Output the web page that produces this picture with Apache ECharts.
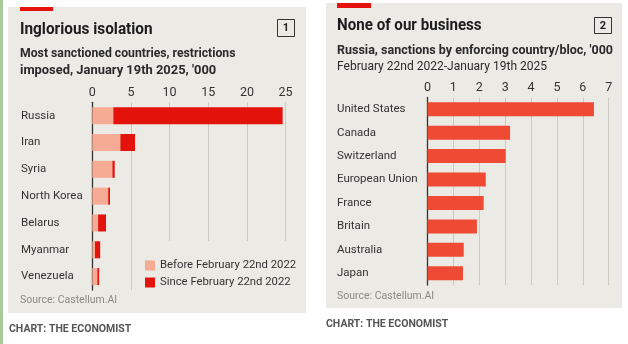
<!DOCTYPE html>
<html><head><meta charset="utf-8">
<script src="https://cdn.jsdelivr.net/npm/echarts@6/dist/echarts.min.js"></script>
<style>html,body{margin:0;padding:0;background:#fff}#c{width:628px;height:344px}</style>
</head><body><div id="c"></div>
<script>
// Chart 1 data ('000 restrictions)
const countries1 = ['Russia','Iran','Syria','North Korea','Belarus','Myanmar','Venezuela'];
const beforeVals = [2.72, 3.63, 2.6, 2.05, 0.75, 0.35, 0.65];
const sinceVals  = [21.9, 1.9, 0.3, 0.24, 1.02, 0.67, 0.23];
const ticks1 = [0, 5, 10, 15, 20, 25];
// Chart 2 data ('000 sanctions on Russia)
const countries2 = ['United States','Canada','Switzerland','European Union','France','Britain','Australia','Japan'];
const russiaVals = [6.43, 3.19, 3.02, 2.25, 2.17, 1.91, 1.40, 1.37];
const ticks2 = [0, 1, 2, 3, 4, 5, 6, 7];

const FONT = "'Roboto', sans-serif";
const BG = '#ebeae4';
const GRIDC = '#cbcac3';
const chart = echarts.init(document.getElementById('c'), null, {renderer: 'canvas'});

function txt(x, y, s, size, weight, color, sx, align) {
  return {type: 'text', x: x, y: y, z: 10, scaleX: sx || 1,
    style: {text: s, fontFamily: FONT, fontSize: size, fontWeight: weight, fill: color,
      textAlign: align || 'left', textVerticalAlign: 'middle'}};
}

chart.setOption({
  animation: false,
  backgroundColor: '#ffffff',
  textStyle: {fontFamily: FONT},
  graphic: [
    {type: 'rect', shape: {x: 0, y: 0, width: 3, height: 344}, style: {fill: '#a9c99a'}, z: -10},
    {type: 'rect', shape: {x: 8, y: 7, width: 298, height: 306}, style: {fill: BG}, z: -10},
    {type: 'rect', shape: {x: 326, y: 3, width: 296, height: 305}, style: {fill: BG}, z: -10},
    {type: 'rect', shape: {x: 20, y: 7, width: 33, height: 4}, style: {fill: '#e3120b'}, z: 10},
    {type: 'rect', shape: {x: 337, y: 3, width: 34, height: 5}, style: {fill: '#e3120b'}, z: 10},
    // legend cover over gridlines
    {type: 'rect', shape: {x: 140, y: 241, width: 160, height: 52}, style: {fill: BG}, z: 3},
    // box 1
    {type: 'rect', shape: {x: 277.5, y: 19.5, width: 17, height: 17}, style: {fill: 'none', stroke: '#333', lineWidth: 1}, z: 10},
    txt(286, 28.5, '1', 11, 'bold', '#222', 1, 'center'),
    {type: 'rect', shape: {x: 594.5, y: 17.5, width: 17, height: 16}, style: {fill: 'none', stroke: '#333', lineWidth: 1}, z: 10},
    txt(603, 26, '2', 11, 'bold', '#222', 1, 'center'),
    txt(20, 30, 'Inglorious isolation', 16.5, 'bold', '#1c1c1c', 0.93),
    txt(20, 54, 'Most sanctioned countries, restrictions', 13.3, 'bold', '#2a2a2a', 0.92),
    txt(20, 71, "imposed, January 19th 2025, '000", 13.3, 'bold', '#2a2a2a', 0.97),
    txt(20, 300, 'Source: Castellum.AI', 10.5, 'normal', '#8a8a85'),
    txt(9, 329, 'CHART: THE ECONOMIST', 10.5, 'bold', '#555555'),
    txt(337, 26, 'None of our business', 16.5, 'bold', '#1c1c1c', 0.917),
    txt(337, 51, "Russia, sanctions by enforcing country/bloc, '000", 13.3, 'bold', '#2a2a2a', 0.94),
    txt(337, 67, 'February 22nd 2022-January 19th 2025', 13.3, 'normal', '#2a2a2a', 0.905),
    txt(337, 296, 'Source: Castellum.AI', 10.5, 'normal', '#8a8a85'),
    txt(326, 324, 'CHART: THE ECONOMIST', 10.5, 'bold', '#555555')
  ],
  legend: {
    left: 140, top: 255, orient: 'vertical', itemWidth: 10, itemHeight: 10, itemGap: 6,
    icon: 'rect', z: 4,
    textStyle: {fontFamily: FONT, fontSize: 11.3, color: '#333'},
    data: ['Before February 22nd 2022', 'Since February 22nd 2022']
  },
  grid: [
    {left: 92.3, top: 102.3, width: 193.3, height: 187.7},
    {left: 427.5, top: 97.5, width: 181.2, height: 187.5}
  ],
  xAxis: [
    {gridIndex: 0, type: 'value', position: 'top', min: ticks1[0], max: ticks1[ticks1.length-1], interval: 5,
      axisLine: {show: false}, axisTick: {show: false},
      axisLabel: {margin: 3, fontSize: 12.5, color: '#333', fontFamily: FONT},
      splitLine: {show: true, lineStyle: {color: GRIDC, width: 1}}},
    {gridIndex: 1, type: 'value', position: 'top', min: ticks2[0], max: ticks2[ticks2.length-1], interval: 1,
      axisLine: {show: false}, axisTick: {show: false},
      axisLabel: {margin: 3, fontSize: 12.5, color: '#333', fontFamily: FONT},
      splitLine: {show: true, lineStyle: {color: GRIDC, width: 1}}}
  ],
  yAxis: [
    {gridIndex: 0, type: 'category', inverse: true, data: countries1,
      axisLine: {show: true, lineStyle: {color: '#333', width: 1.3}}, axisTick: {show: false},
      axisLabel: {align: 'left', margin: 71.3, fontSize: 11.5, color: '#333', fontFamily: FONT}},
    {gridIndex: 1, type: 'category', inverse: true, data: countries2,
      axisLine: {show: true, lineStyle: {color: '#333', width: 1.3}}, axisTick: {show: false},
      axisLabel: {align: 'left', margin: 90.5, fontSize: 11.5, color: '#333', fontFamily: FONT}}
  ],
  series: [
    {name: 'Before February 22nd 2022', type: 'bar', stack: 'a', xAxisIndex: 0, yAxisIndex: 0,
      barWidth: 17, data: beforeVals, itemStyle: {color: '#f6ab95'}},
    {name: 'Since February 22nd 2022', type: 'bar', stack: 'a', xAxisIndex: 0, yAxisIndex: 0,
      barWidth: 17, data: sinceVals, itemStyle: {color: '#e3120b'}},
    {name: 'Russia', type: 'bar', xAxisIndex: 1, yAxisIndex: 1,
      barWidth: 14, data: russiaVals, itemStyle: {color: '#ef4a33'}}
  ]
});
</script></body></html>
